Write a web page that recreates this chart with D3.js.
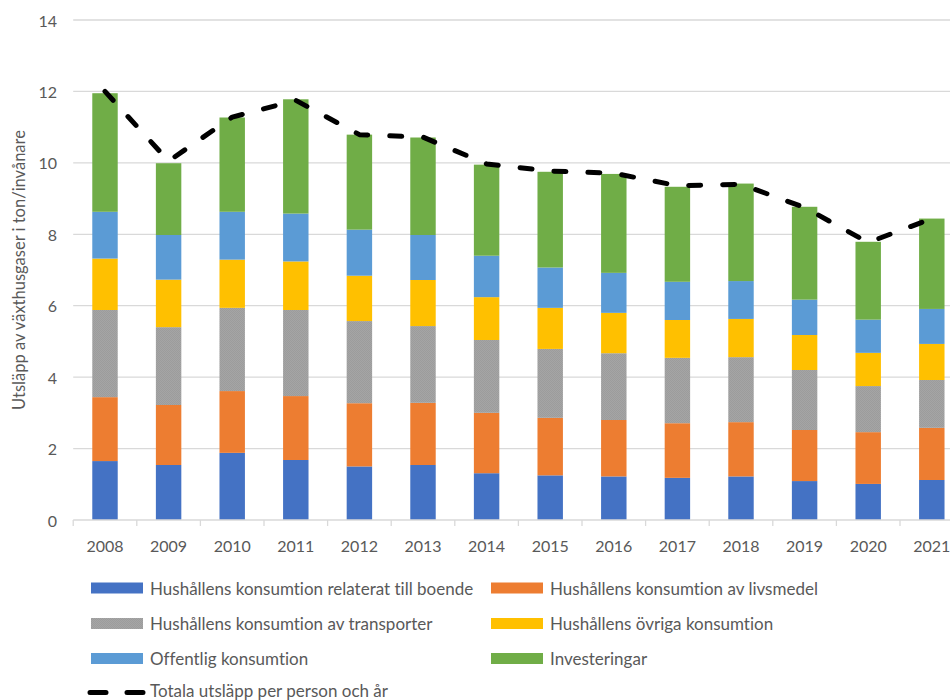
<!DOCTYPE html>
<html>
<head>
<meta charset="utf-8">
<script src="https://cdn.jsdelivr.net/npm/d3@7/dist/d3.min.js"></script>
<style>
  html, body { margin: 0; padding: 0; background: #fff; overflow: hidden; }
  svg { display: block; font-family: Lato, "Open Sans", sans-serif; font-variant-ligatures: none; }
</style>
</head>
<body>
<svg id="chart" width="950" height="700"></svg>
<script>
// ---- Data ----
const years = ["2008","2009","2010","2011","2012","2013","2014","2015","2016","2017","2018","2019","2020","2021"];
const boende     = [1.65, 1.54, 1.88, 1.68, 1.50, 1.54, 1.31, 1.25, 1.22, 1.18, 1.22, 1.09, 1.01, 1.12];
const livsmedel  = [1.79, 1.68, 1.73, 1.79, 1.77, 1.74, 1.69, 1.61, 1.58, 1.53, 1.52, 1.43, 1.45, 1.46];
const transporter= [2.44, 2.18, 2.33, 2.41, 2.30, 2.15, 2.04, 1.93, 1.87, 1.83, 1.82, 1.68, 1.29, 1.34];
const ovriga     = [1.44, 1.33, 1.35, 1.36, 1.27, 1.29, 1.20, 1.15, 1.13, 1.06, 1.07, 0.98, 0.93, 1.01];
const offentlig  = [1.31, 1.25, 1.34, 1.34, 1.29, 1.26, 1.16, 1.13, 1.12, 1.07, 1.06, 0.99, 0.93, 0.98];
const invest     = [3.32, 2.01, 2.64, 3.20, 2.66, 2.73, 2.55, 2.68, 2.77, 2.66, 2.73, 2.60, 2.18, 2.53];
const totals     = [12.0, 10.05, 11.28, 11.75, 10.79, 10.72, 9.97, 9.77, 9.71, 9.36, 9.40, 8.75, 7.77, 8.44];
const yTicks = [0, 2, 4, 6, 8, 10, 12, 14];
const seriesNames = [
  "Hushållens konsumtion relaterat till boende",
  "Hushållens konsumtion av livsmedel",
  "Hushållens konsumtion av transporter",
  "Hushållens övriga konsumtion",
  "Offentlig konsumtion",
  "Investeringar"
];
const lineName = "Totala utsläpp per person och år";
const yTitle = "Utsläpp av växthusgaser i ton/invånare";

// ---- Build table ----
const seriesArrays = [boende, livsmedel, transporter, ovriga, offentlig, invest];
const keys = ["boende","livsmedel","transporter","ovriga","offentlig","invest"];
const colors = ["#4472C4", "#ED7D31", "url(#grayPattern)", "#FFC000", "#5B9BD5", "#70AD47"];
const table = years.map((y, i) => {
  const row = { year: y };
  keys.forEach((k, j) => row[k] = seriesArrays[j][i]);
  return row;
});
const stacked = d3.stack().keys(keys)(table);

const svg = d3.select("#chart");

// pattern for gray series
const defs = svg.append("defs");
const pat = defs.append("pattern").attr("id", "grayPattern")
  .attr("patternUnits", "userSpaceOnUse").attr("width", 2).attr("height", 2);
pat.append("rect").attr("width", 2).attr("height", 2).attr("fill", "#A5A5A5");
pat.append("rect").attr("width", 1).attr("height", 1).attr("fill", "#9c9c9c");
pat.append("rect").attr("x", 1).attr("y", 1).attr("width", 1).attr("height", 1).attr("fill", "#9c9c9c");

// ---- Scales ----
const x = d3.scaleBand().domain(years).range([73.2, 963.6]).paddingInner(0.6).paddingOuter(0.3);
const xCat = d3.scaleBand().domain(years).range([73.2, 963.6]).padding(0);
const y = d3.scaleLinear().domain([0, 14]).range([520, 20]);

const textColor = "#595959";
const gridColor = "#d9d9d9";

// gridlines
svg.append("g").selectAll("line").data(yTicks.filter(t => t > 0)).join("line")
  .attr("x1", 73.2).attr("x2", 963.6)
  .attr("y1", d => y(d)).attr("y2", d => y(d))
  .attr("stroke", gridColor).attr("stroke-width", 1.3);

// y tick labels
svg.append("g").selectAll("text").data(yTicks).join("text")
  .attr("x", 57).attr("y", d => y(d))
  .attr("text-anchor", "end").attr("dominant-baseline", "central")
  .attr("fill", textColor).attr("font-size", 16)
  .text(d => d);

// y title
svg.append("text")
  .attr("transform", `translate(19,${(y(0) + y(14)) / 2}) rotate(-90)`)
  .attr("text-anchor", "middle").attr("dominant-baseline", "central")
  .attr("fill", textColor).attr("font-size", 16.5)
  .text(yTitle);

// bars
svg.append("g").selectAll("g").data(stacked).join("g")
  .attr("fill", (d, i) => colors[i])
  .selectAll("rect").data(d => d).join("rect")
  .attr("x", d => x(d.data.year))
  .attr("width", x.bandwidth())
  .attr("y", d => y(d[1]))
  .attr("height", d => y(d[0]) - y(d[1]));

// x axis
svg.append("line").attr("x1", 73.2).attr("x2", 963.6).attr("y1", y(0)).attr("y2", y(0))
  .attr("stroke", gridColor).attr("stroke-width", 1.3);
svg.append("g").selectAll("line").data(years.concat(["end"])).join("line")
  .attr("x1", (d, i) => 73.2 + i * xCat.step()).attr("x2", (d, i) => 73.2 + i * xCat.step())
  .attr("y1", y(0)).attr("y2", y(0) + 6)
  .attr("stroke", gridColor).attr("stroke-width", 1.3);
svg.append("g").selectAll("text").data(years).join("text")
  .attr("x", d => x(d) + x.bandwidth() / 2)
  .attr("y", 545.5)
  .attr("text-anchor", "middle").attr("dominant-baseline", "central")
  .attr("fill", textColor).attr("font-size", 16)
  .text(d => d);

// total line
const line = d3.line()
  .x((d, i) => x(years[i]) + x.bandwidth() / 2)
  .y(d => y(d));
svg.append("path").datum(totals)
  .attr("d", line)
  .attr("fill", "none").attr("stroke", "#000").attr("stroke-width", 5)
  .attr("stroke-linecap", "round").attr("stroke-linejoin", "round")
  .attr("stroke-dasharray", "12,22");

// legend
const legendItems = seriesNames.map((n, i) => ({ name: n, color: colors[i], col: i % 2, row: Math.floor(i / 2) }));
const colX = [91, 491];
const rowY = [588, 623.5, 658.5];
const lg = svg.append("g");
legendItems.forEach(it => {
  lg.append("rect")
    .attr("x", colX[it.col]).attr("y", rowY[it.row] - 5.5)
    .attr("width", 52).attr("height", 11)
    .attr("fill", it.color);
  lg.append("text")
    .attr("x", colX[it.col] + 59).attr("y", rowY[it.row])
    .attr("dominant-baseline", "central")
    .attr("fill", textColor).attr("font-size", 17)
    .text(it.name);
});
lg.append("line")
  .attr("x1", 90).attr("x2", 144).attr("y1", 692.5).attr("y2", 692.5)
  .attr("stroke", "#000").attr("stroke-width", 5).attr("stroke-linecap", "round")
  .attr("stroke-dasharray", "16,21");
lg.append("text")
  .attr("x", 150).attr("y", 690)
  .attr("dominant-baseline", "central")
  .attr("fill", textColor).attr("font-size", 17)
  .text(lineName);
</script>
</body>
</html>
